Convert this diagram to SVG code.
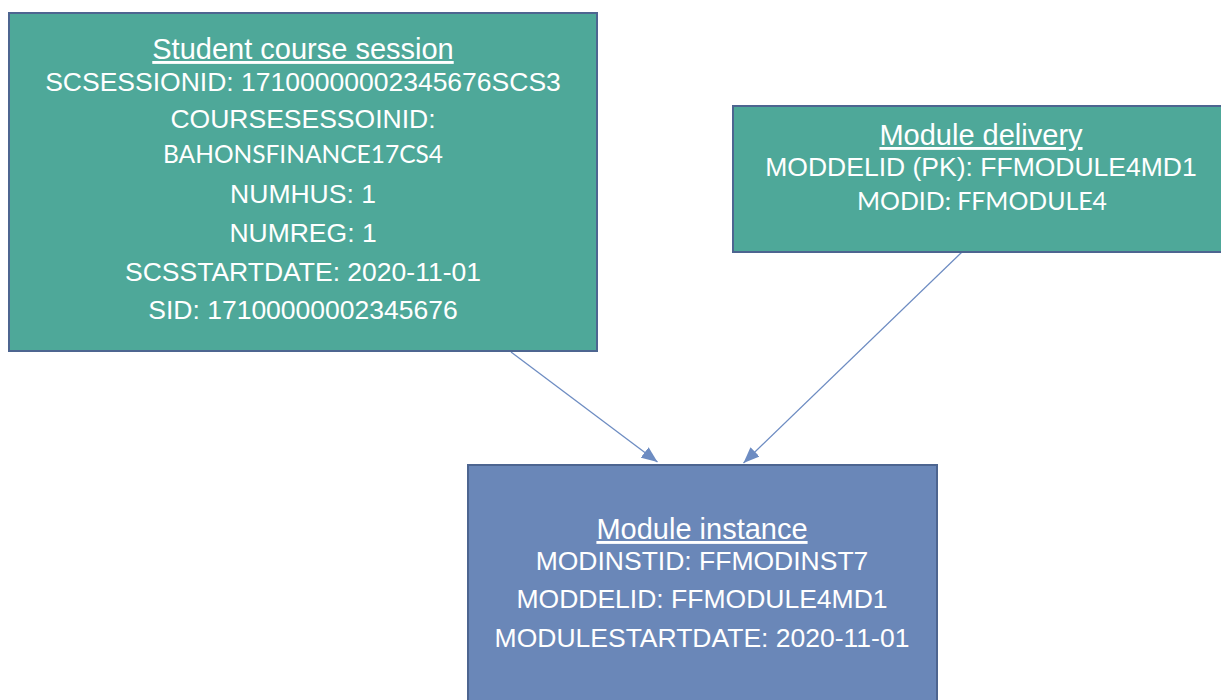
<svg xmlns="http://www.w3.org/2000/svg" width="1221" height="700" viewBox="0 0 1221 700">
  <style>
    .teal { fill: #4EA899; stroke: #4D6590; stroke-width: 2; }
    .blue { fill: #6A87B8; stroke: #4D6590; stroke-width: 2; }
    text { font-family: "Liberation Sans", Arial, sans-serif; fill: #FFFFFF; text-anchor: middle; }
    .title { font-size: 29px; text-decoration: underline; }
    .body { font-size: 26.5px; }
    .cal { font-family: Lato, "Open Sans", sans-serif; font-size: 25px; }
    .conn { stroke: #6D8CC2; stroke-width: 1.3; fill: none; marker-end: url(#arrow); }
  </style>
  <defs>
    <marker id="arrow" markerUnits="userSpaceOnUse" markerWidth="17" markerHeight="13" refX="16" refY="6.5" orient="auto">
      <path d="M0,0 L16,6.5 L0,13 z" fill="#6D8CC2"/>
    </marker>
  </defs>
  <rect width="1221" height="700" fill="#FFFFFF"/>

  <g id="connectors">
    <line class="conn" x1="511" y1="352" x2="657.5" y2="462"/>
    <line class="conn" x1="962" y1="252" x2="743.5" y2="463"/>
  </g>

  <g id="student-course-session">
    <rect class="teal" x="9" y="13" width="588" height="338"/>
    <text class="title" x="303" y="59">Student course session</text>
    <text class="body" x="303" y="91">SCSESSIONID: 17100000002345676SCS3</text>
    <text class="body" x="303" y="128">COURSESESSOINID:</text>
    <text class="cal" x="303" y="163" textLength="280" lengthAdjust="spacingAndGlyphs">BAHONSFINANCE17CS4</text>
    <text class="body" x="303" y="203">NUMHUS: 1</text>
    <text class="body" x="303" y="242">NUMREG: 1</text>
    <text class="body" x="303" y="281">SCSSTARTDATE: 2020-11-01</text>
    <text class="body" x="303" y="319">SID: 17100000002345676</text>
  </g>

  <g id="module-delivery">
    <rect class="teal" x="733" y="106" width="500" height="146"/>
    <text class="title" x="981" y="145">Module delivery</text>
    <text class="body" x="981" y="176">MODDELID (PK): FFMODULE4MD1</text>
    <text class="cal" x="982" y="210" textLength="250" lengthAdjust="spacingAndGlyphs">MODID: FFMODULE4</text>
  </g>

  <g id="module-instance">
    <rect class="blue" x="468" y="465" width="469" height="250"/>
    <text class="title" x="702" y="539">Module instance</text>
    <text class="body" x="702" y="570">MODINSTID: FFMODINST7</text>
    <text class="body" x="702" y="608">MODDELID: FFMODULE4MD1</text>
    <text class="body" x="702" y="647">MODULESTARTDATE: 2020-11-01</text>
  </g>
</svg>
